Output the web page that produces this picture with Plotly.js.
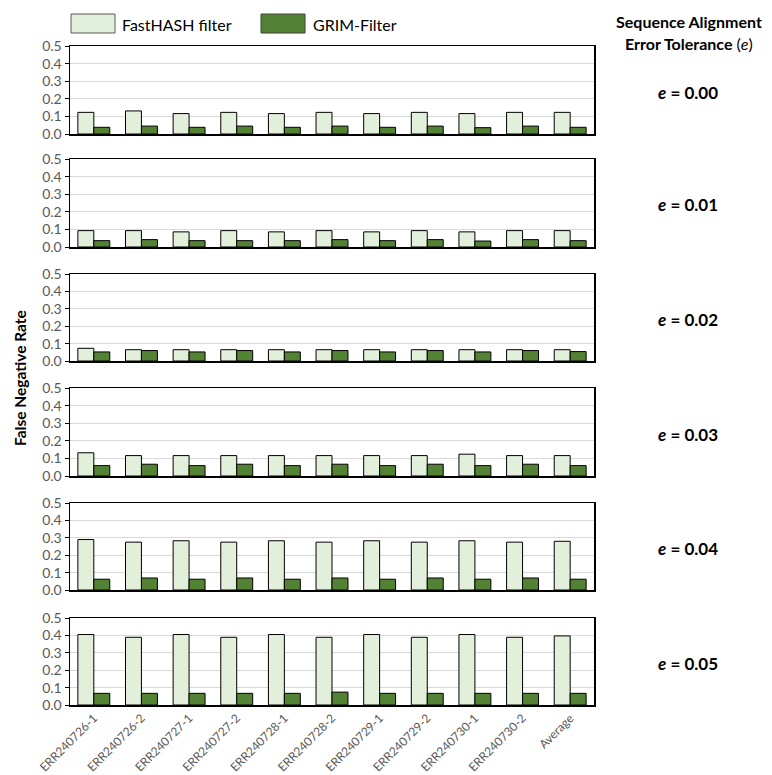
<!DOCTYPE html>
<html>
<head>
<meta charset="utf-8">
<script src="https://cdn.plot.ly/plotly-3.0.1.min.js"></script>
<style>html,body{margin:0;padding:0;background:#fff;}#chart{width:772px;height:775px;}</style>
</head>
<body>
<div id="chart"></div>
<script>
const categories = ['ERR240726-1','ERR240726-2','ERR240727-1','ERR240727-2','ERR240728-1','ERR240728-2','ERR240729-1','ERR240729-2','ERR240730-1','ERR240730-2','Average'];
const tolerances = ['0.00','0.01','0.02','0.03','0.04','0.05'];
const yTickLabels = ['0.0','0.1','0.2','0.3','0.4','0.5'];
const seriesNames = ['FastHASH filter','GRIM-Filter'];

const fastE000 = [0.123,0.131,0.116,0.123,0.116,0.123,0.116,0.123,0.116,0.123,0.123];
const grimE000 = [0.038,0.045,0.038,0.045,0.038,0.045,0.038,0.045,0.036,0.045,0.038];
const fastE001 = [0.093,0.093,0.086,0.093,0.086,0.093,0.086,0.093,0.086,0.093,0.093];
const grimE001 = [0.036,0.042,0.036,0.036,0.036,0.042,0.036,0.042,0.034,0.042,0.036];
const fastE002 = [0.073,0.065,0.065,0.065,0.065,0.065,0.065,0.065,0.065,0.065,0.065];
const grimE002 = [0.052,0.060,0.052,0.060,0.052,0.060,0.052,0.060,0.052,0.060,0.054];
const fastE003 = [0.132,0.116,0.116,0.116,0.116,0.116,0.116,0.116,0.124,0.116,0.116];
const grimE003 = [0.059,0.067,0.059,0.067,0.059,0.067,0.059,0.067,0.059,0.067,0.059];
const fastE004 = [0.290,0.275,0.283,0.275,0.283,0.275,0.283,0.275,0.283,0.275,0.280];
const grimE004 = [0.062,0.069,0.062,0.069,0.062,0.069,0.062,0.069,0.062,0.069,0.062];
const fastE005 = [0.405,0.389,0.405,0.389,0.405,0.389,0.405,0.389,0.405,0.389,0.397];
const grimE005 = [0.067,0.067,0.067,0.067,0.067,0.074,0.067,0.067,0.067,0.067,0.067];

const fastSets = [fastE000, fastE001, fastE002, fastE003, fastE004, fastE005];
const grimSets = [grimE000, grimE001, grimE002, grimE003, grimE004, grimE005];

const W = 772, H = 775;
const mL = 70, mR = 178, mT = 46, mB = 70;
const plotW = W - mL - mR, plotH = H - mT - mB;
const px2x = p => (p - mL) / plotW;
const px2y = p => (H - mB - p) / plotH;

// panel pixel extents [top, bottom]
const panels = [[46,134],[159,247],[274,361],[388,476],[503,590],[618,705]];

const fastColor = '#e2efda', grimColor = '#548235';
const font = 'Lato, "Open Sans", sans-serif';

const data = [];
const layout = {
  width: W, height: H,
  margin: {l: mL, r: mR, t: mT, b: mB},
  paper_bgcolor: '#fff', plot_bgcolor: '#fff',
  showlegend: false,
  barmode: 'group', bargap: 0.33, bargroupgap: 0,
  font: {family: font, color: '#595959'},
  shapes: [], annotations: []
};

for (let i = 0; i < 6; i++) {
  const n = i + 1;
  const xa = n === 1 ? 'x' : 'x' + n;
  const ya = n === 1 ? 'y' : 'y' + n;
  data.push({type: 'bar', name: seriesNames[0], x: categories, y: fastSets[i], xaxis: xa, yaxis: ya,
    marker: {color: fastColor, line: {color: '#000', width: 1}}, offsetgroup: 'a'});
  data.push({type: 'bar', name: seriesNames[1], x: categories, y: grimSets[i], xaxis: xa, yaxis: ya,
    marker: {color: grimColor, line: {color: '#000', width: 1}}, offsetgroup: 'b'});
  const [pt, pb] = panels[i];
  layout['xaxis' + (n === 1 ? '' : n)] = {
    domain: [0, 1], anchor: ya, type: 'category',
    showticklabels: n === 6, tickangle: -45, tickfont: {size: 12, color: '#595959', family: font},
    ticks: '', showline: true, linecolor: '#000', linewidth: 1.5, mirror: true,
    showgrid: false, zeroline: false, automargin: false, fixedrange: true
  };
  layout['yaxis' + (n === 1 ? '' : n)] = {
    domain: [px2y(pb), px2y(pt)], anchor: xa, range: [0, 0.5],
    tickvals: [0, 0.1, 0.2, 0.3, 0.4, 0.5], ticktext: yTickLabels,
    tickfont: {size: 14, color: '#595959', family: font},
    ticks: 'outside', ticklen: 4, tickcolor: '#000',
    showline: true, linecolor: '#000', linewidth: 1.5, mirror: true,
    showgrid: true, gridcolor: '#d9d9d9', gridwidth: 1, zeroline: false, automargin: false, fixedrange: true
  };
  layout.annotations.push({
    xref: 'paper', yref: 'paper', x: px2x(688), y: px2y((pt + pb) / 2 + 2),
    text: '<b><i>e</i> = ' + tolerances[i] + '</b>', showarrow: false,
    font: {size: 17, color: '#000', family: font}, xanchor: 'center', yanchor: 'middle'
  });
}

// Legend (drawn manually to match the large swatches)
layout.shapes.push({type: 'rect', xref: 'paper', yref: 'paper', x0: px2x(71), x1: px2x(115), y0: px2y(33), y1: px2y(14),
  fillcolor: fastColor, line: {color: '#595959', width: 1}});
layout.shapes.push({type: 'rect', xref: 'paper', yref: 'paper', x0: px2x(261), x1: px2x(305), y0: px2y(33), y1: px2y(14),
  fillcolor: grimColor, line: {color: '#404040', width: 1}});
layout.annotations.push({xref: 'paper', yref: 'paper', x: px2x(120), y: px2y(24), text: seriesNames[0], showarrow: false,
  xanchor: 'left', yanchor: 'middle', font: {size: 16, color: '#000', family: font}});
layout.annotations.push({xref: 'paper', yref: 'paper', x: px2x(311), y: px2y(24), text: seriesNames[1], showarrow: false,
  xanchor: 'left', yanchor: 'middle', font: {size: 16, color: '#000', family: font}});

// Right header
layout.annotations.push({xref: 'paper', yref: 'paper', x: px2x(689), y: px2y(21), text: '<b>Sequence Alignment</b>', showarrow: false,
  xanchor: 'center', yanchor: 'middle', font: {size: 16, color: '#000', family: font}});
layout.annotations.push({xref: 'paper', yref: 'paper', x: px2x(689), y: px2y(43), text: '<b>Error Tolerance</b> (<i>e</i>)', showarrow: false,
  xanchor: 'center', yanchor: 'middle', font: {size: 16, color: '#000', family: font}});

// Y axis title
layout.annotations.push({xref: 'paper', yref: 'paper', x: px2x(20), y: px2y(378), text: '<b>False Negative Rate</b>', showarrow: false,
  textangle: -90, xanchor: 'center', yanchor: 'middle', font: {size: 15.5, color: '#000', family: font}});

Plotly.newPlot('chart', data, layout, {displayModeBar: false, staticPlot: true});
</script>
</body>
</html>
